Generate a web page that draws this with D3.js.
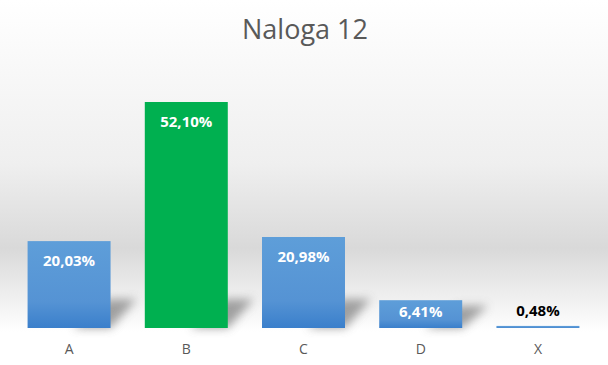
<!DOCTYPE html>
<html>
<head>
<meta charset="utf-8">
<script src="https://cdn.jsdelivr.net/npm/d3@7"></script>
<style>
  body { margin: 0; background: #fff; }
  svg { display: block; }
</style>
</head>
<body>
<div id="chart"></div>
<script>
// data
const categories = ["A", "B", "C", "D", "X"];
const values = [20.03, 52.10, 20.98, 6.41, 0.48];
const labels = ["20,03%", "52,10%", "20,98%", "6,41%", "0,48%"];
const title = "Naloga 12";

const W = 608, H = 365;
const margin = {top: 102, right: 11, bottom: 37, left: 10};
const width = W - margin.left - margin.right,
    height = H - margin.top - margin.bottom;

const svg = d3.select("#chart")
  .append("svg")
    .attr("width", W)
    .attr("height", H);

const defs = svg.append("defs");

// chart area background: white -> gray -> white
const bg = defs.append("linearGradient")
  .attr("id", "bg").attr("x1", 0).attr("y1", 0).attr("x2", 0).attr("y2", 1);
bg.append("stop").attr("offset", "0%").attr("stop-color", "#ffffff");
bg.append("stop").attr("offset", "45%").attr("stop-color", "#efefef");
bg.append("stop").attr("offset", "68%").attr("stop-color", "#d9d9d9");
bg.append("stop").attr("offset", "91%").attr("stop-color", "#ffffff");
bg.append("stop").attr("offset", "100%").attr("stop-color", "#ffffff");

const blue = defs.append("linearGradient")
  .attr("id", "blue").attr("x1", 0).attr("y1", 0).attr("x2", 0).attr("y2", 1);
blue.append("stop").attr("offset", "0%").attr("stop-color", "#5e9ed9");
blue.append("stop").attr("offset", "70%").attr("stop-color", "#5593d4");
blue.append("stop").attr("offset", "100%").attr("stop-color", "#3a7fcb");

defs.append("filter").attr("id", "blur")
  .attr("x", "-50%").attr("y", "-50%").attr("width", "200%").attr("height", "200%")
  .append("feGaussianBlur").attr("stdDeviation", 5);

svg.append("rect")
  .attr("width", W).attr("height", H)
  .attr("fill", "url(#bg)");

svg.append("text")
  .attr("x", W / 2 + 1)
  .attr("y", 39)
  .attr("text-anchor", "middle")
  .attr("font-family", "Open Sans, Liberation Sans, sans-serif")
  .attr("font-size", 27)
  .attr("fill", "#595959")
  .text(title);

const g = svg.append("g")
  .attr("transform", `translate(${margin.left},${margin.top})`);

const x = d3.scaleBand()
  .domain(categories)
  .range([0, width])
  .paddingInner(0.292)
  .paddingOuter(0.15);

const y = d3.scaleLinear()
  .domain([0, 52.1])
  .range([height, 0]);

const data = categories.map((c, i) => ({cat: c, v: values[i], label: labels[i]}));

// perspective shadows behind bars
g.selectAll("path.shadow")
  .data(data.filter(d => d.v > 2))
  .join("path")
    .attr("class", "shadow")
    .attr("fill", "#8a8a8a")
    .attr("opacity", 0.8)
    .attr("filter", "url(#blur)")
    .attr("d", d => {
      const x0 = x(d.cat) + x.bandwidth() * 0.55;
      const x1 = x(d.cat) + x.bandwidth();
      const sh = Math.min(height - y(d.v), 36);
      return `M${x0},${height} L${x1},${height} L${x1 + 26},${height - sh * 0.8} L${x1 - 4},${height - sh * 0.8} Z`;
    });

g.selectAll("rect.bar")
  .data(data)
  .join("rect")
    .attr("class", "bar")
    .attr("x", d => x(d.cat))
    .attr("y", d => y(d.v))
    .attr("width", x.bandwidth())
    .attr("height", d => Math.max(height - y(d.v), 2))
    .attr("fill", d => d.cat === "B" ? "#00b050" : "url(#blue)");

// value labels
g.selectAll("text.val")
  .data(data)
  .join("text")
    .attr("class", "val")
    .attr("x", d => x(d.cat) + x.bandwidth() / 2)
    .attr("y", d => {
      const h = height - y(d.v);
      if (h > 40) return y(d.v) + 25;
      if (h > 20) return y(d.v) + 17;
      return y(d.v) - 10;
    })
    .attr("text-anchor", "middle")
    .attr("font-family", "Open Sans, Liberation Sans, sans-serif")
    .attr("font-weight", "bold")
    .attr("font-size", 15)
    .attr("fill", d => d.v > 3 ? "#ffffff" : "#000000")
    .text(d => d.label);

// category axis
const xAxis = g.append("g")
  .attr("transform", `translate(0,${height})`)
  .call(d3.axisBottom(x).tickSize(0).tickPadding(16));
xAxis.select(".domain").remove();
xAxis.selectAll("text")
  .attr("font-family", "Open Sans, Liberation Sans, sans-serif")
  .attr("font-size", 14)
  .attr("fill", "#595959");
</script>
</body>
</html>
